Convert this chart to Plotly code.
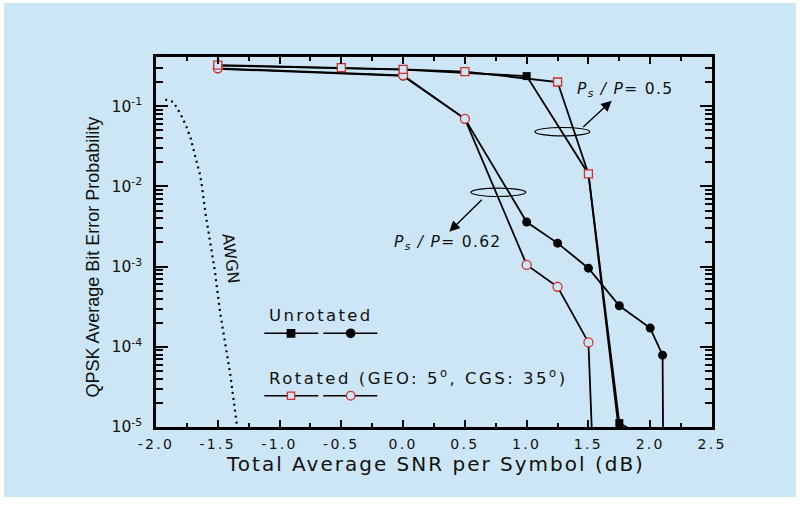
import math
import plotly.graph_objects as go

# ---- data: total average SNR per symbol (dB) vs. QPSK bit error probability ----
snr_awgn = [-1.925, -1.86, -1.80, -1.755, -1.72, -1.695, -1.668, -1.642, -1.628,
            -1.60, -1.56, -1.525, -1.48, -1.44, -1.40, -1.345]
ber_awgn = [0.121, 0.113, 0.079, 0.056, 0.040, 0.029, 0.0196, 0.0136, 0.0100,
            4.65e-3, 1.96e-3, 9.1e-4, 2.62e-4, 1.10e-4, 4.65e-5, 1.05e-5]

# Ps/P = 0.5 (squares)
snr_unrot_sq = [-1.5, 0.0, 1.0, 1.5, 1.75, 2.0]
ber_unrot_sq = [0.320, 0.285, 0.237, 0.0143, 1.12e-5, 6.8e-6]
snr_rot_sq = [-1.5, -0.5, 0.0, 0.5, 1.25, 1.5, 1.75]
ber_rot_sq = [0.325, 0.302, 0.288, 0.269, 0.200, 0.0143, 8.0e-6]

# Ps/P = 0.62 (circles)
snr_unrot_ci = [-1.5, 0.0, 0.5, 1.0, 1.25, 1.5, 1.75, 2.0, 2.1, 2.25]
ber_unrot_ci = [0.292, 0.238, 0.0696, 3.59e-3, 1.96e-3, 9.55e-4, 3.25e-4,
                1.71e-4, 7.87e-5, 1e-40]
snr_rot_ci = [-1.5, 0.0, 0.5, 1.0, 1.25, 1.5, 1.75]
ber_rot_ci = [0.296, 0.242, 0.0696, 1.05e-3, 5.6e-4, 1.135e-4, 1e-14]

x_tick_vals = [-2.0, -1.5, -1.0, -0.5, 0.0, 0.5, 1.0, 1.5, 2.0, 2.5]
x_tick_text = ["-2.0", "-1.5", "-1.0", "-0.5", "0.0", "0.5", "1.0", "1.5", "2.0", "2.5"]
y_tick_vals = [1e-5, 1e-4, 1e-3, 1e-2, 1e-1]
y_tick_text = ["10<sup>-5</sup>", "10<sup>-4</sup>", "10<sup>-3</sup>",
               "10<sup>-2</sup>", "10<sup>-1</sup>"]

# ---- styling ----
W, H = 802, 514
ML, MR, MT, MB = 156, 90, 57, 87
PW, PH = W - ML - MR, H - MT - MB
BG = "#cce6f6"
RED = "#d0312d"
INK = "#111111"
FONT = "DejaVu Sans"


def fx(px):
    return (px - ML) / PW


def fy(py):
    return (H - MB - py) / PH


def spaced(text, px, size):
    return (f"<span style='letter-spacing:{px}px;font-size:{size}px'>"
            f"{text}</span>")


fig = go.Figure()

fig.add_trace(go.Scatter(
    x=snr_awgn, y=ber_awgn, mode="lines",
    line=dict(color="black", width=2.2, dash="2px,4px"),
    hoverinfo="skip", showlegend=False))

fig.add_trace(go.Scatter(
    x=snr_unrot_sq, y=ber_unrot_sq, mode="lines+markers",
    line=dict(color="black", width=1.8),
    marker=dict(symbol="square", size=8, color="black"),
    showlegend=False))
fig.add_trace(go.Scatter(
    x=snr_unrot_ci, y=ber_unrot_ci, mode="lines+markers",
    line=dict(color="black", width=1.8),
    marker=dict(symbol="circle", size=9, color="black"),
    showlegend=False))
fig.add_trace(go.Scatter(
    x=snr_rot_ci, y=ber_rot_ci, mode="lines+markers",
    line=dict(color="black", width=1.8),
    marker=dict(symbol="circle", size=9, color=BG, line=dict(color=RED, width=1.3)),
    showlegend=False))
fig.add_trace(go.Scatter(
    x=snr_rot_sq, y=ber_rot_sq, mode="lines+markers",
    line=dict(color="black", width=1.8),
    marker=dict(symbol="square", size=8, color=BG, line=dict(color=RED, width=1.3)),
    showlegend=False))

shapes = []
# background panel
shapes.append(dict(type="rect", xref="paper", yref="paper", layer="below",
                   x0=fx(4), x1=fx(796), y0=fy(497), y1=fy(3),
                   fillcolor=BG, line=dict(width=0)))
# ellipses grouping the curves
for cx, cy in [(562.3, 131.7), (498.3, 192.3)]:
    shapes.append(dict(type="circle", xref="paper", yref="paper",
                       x0=fx(cx - 27.5), x1=fx(cx + 27.5),
                       y0=fy(cy + 4.2), y1=fy(cy - 4.2),
                       line=dict(color="black", width=1.2)))

# legend samples
for row_y in (333.3, 395.7):
    for a, b in [(264.3, 318.3), (323.3, 377.3)]:
        shapes.append(dict(type="line", xref="paper", yref="paper",
                           x0=fx(a), x1=fx(b), y0=fy(row_y), y1=fy(row_y),
                           line=dict(color="black", width=1.5)))


def marker_shape(kind, cx, cy, half, fill, edge):
    return dict(type=kind, xref="paper", yref="paper",
                xsizemode="pixel", ysizemode="pixel",
                xanchor=fx(cx), yanchor=fy(cy),
                x0=-half, x1=half, y0=-half, y1=half,
                fillcolor=fill, line=dict(color=edge, width=1.3))


shapes.append(marker_shape("rect", 291, 333.3, 3.7, "black", "black"))
shapes.append(marker_shape("circle", 350.7, 333.3, 4.2, "black", "black"))
shapes.append(marker_shape("rect", 291, 395.7, 3.6, BG, RED))
shapes.append(marker_shape("circle", 350.7, 395.7, 4.3, BG, RED))

annotations = []
# axis titles
annotations.append(dict(
    xref="paper", yref="paper", x=fx(435), y=fy(464), xanchor="center", yanchor="middle",
    text=spaced("Total Average SNR per Symbol (dB)", 2, 20), showarrow=False,
    font=dict(family=FONT, size=20, color=INK)))
annotations.append(dict(
    xref="paper", yref="paper", x=fx(92.5), y=fy(257), xanchor="center", yanchor="middle",
    text="QPSK Average Bit Error Probability", textangle=-90, showarrow=False,
    font=dict(family="Liberation Sans", size=18, color=INK)))
# curve labels
annotations.append(dict(
    xref="paper", yref="paper", x=fx(575), y=fy(90.5), xanchor="left", yanchor="middle",
    text=spaced("<i>P<sub>s</sub> / P</i>= 0.5", 1.3, 15.5), showarrow=False,
    font=dict(family=FONT, size=15.5, color=INK)))
annotations.append(dict(
    xref="paper", yref="paper", x=fx(391.7), y=fy(243), xanchor="left", yanchor="middle",
    text=spaced("<i>P<sub>s</sub> / P</i>= 0.62", 1.3, 15.5), showarrow=False,
    font=dict(family=FONT, size=15.5, color=INK)))
annotations.append(dict(
    xref="paper", yref="paper", x=fx(231), y=fy(258.3), xanchor="center", yanchor="middle",
    text="AWGN", textangle=83, showarrow=False,
    font=dict(family=FONT, size=16, color=INK)))
# arrows from the ellipses
for (hx, hy), (tx, ty) in [((611.7, 100.7), (581.7, 128.3)),
                           ((449.3, 231.7), (483.3, 198.3))]:
    annotations.append(dict(
        xref="paper", yref="paper", x=fx(hx), y=fy(hy), text="",
        showarrow=True, ax=tx - hx, ay=ty - hy,
        arrowhead=2, arrowsize=1.5, arrowwidth=1.4, arrowcolor="black",
        standoff=0, startstandoff=0))
# legend text
annotations.append(dict(
    xref="paper", yref="paper", x=fx(266.7), y=fy(315), xanchor="left", yanchor="middle",
    text=spaced("Unrotated", 2.3, 16.5), showarrow=False,
    font=dict(family=FONT, size=16.5, color=INK)))
annotations.append(dict(
    xref="paper", yref="paper", x=fx(266.7), y=fy(377), xanchor="left", yanchor="middle",
    text=spaced("Rotated (GEO: 5<sup>o</sup>, CGS: 35<sup>o</sup>)", 2.5, 16.5),
    showarrow=False,
    font=dict(family=FONT, size=16.5, color=INK)))

axis_common = dict(
    showline=True, linewidth=2.5, linecolor="black", mirror="allticks",
    ticks="inside", tickcolor="black", showgrid=False, zeroline=False,
)

fig.update_layout(
    width=W, height=H,
    margin=dict(l=ML, r=MR, t=MT, b=MB),
    paper_bgcolor="white", plot_bgcolor="rgba(0,0,0,0)",
    showlegend=False,
    shapes=shapes, annotations=annotations,
    xaxis=dict(
        **axis_common, range=[-2.0, 2.5],
        tickmode="array", tickvals=x_tick_vals,
        ticktext=[spaced(t, 2.3, 14) for t in x_tick_text],
        ticklen=7, tickwidth=1.8, ticklabelstandoff=2,
        tickfont=dict(family=FONT, size=14, color=INK),
        minor=dict(dtick=0.25, ticks="inside", ticklen=4, tickwidth=1.5,
                   tickcolor="black", showgrid=False),
    ),
    yaxis=dict(
        **axis_common, type="log", range=[-5, math.log10(0.41)],
        tickmode="array", tickvals=y_tick_vals, ticktext=y_tick_text,
        ticklen=12, tickwidth=1.8, ticklabelstandoff=8,
        tickfont=dict(family=FONT, size=15.5, color=INK),
        minor=dict(tickmode="array",
                   tickvals=[m * 10.0 ** e for e in range(-5, 0) for m in range(2, 10)],
                   ticks="inside", ticklen=7, tickwidth=1.5,
                   tickcolor="black", showgrid=False),
    ),
)

fig.write_html("out.html")
